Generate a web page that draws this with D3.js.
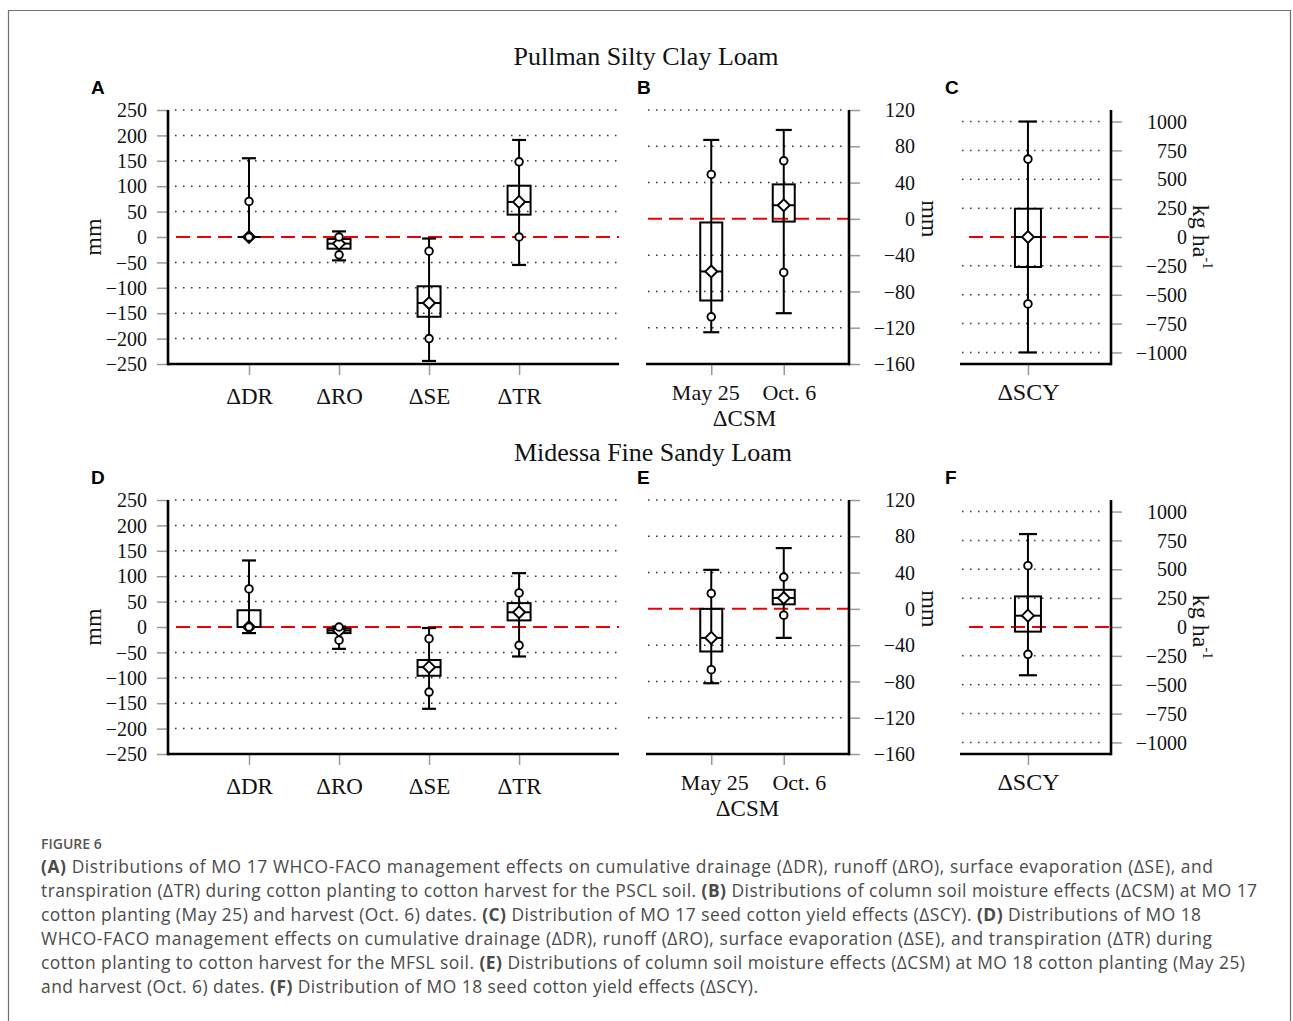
<!DOCTYPE html>
<html>
<head>
<meta charset="utf-8">
<script src="https://cdnjs.cloudflare.com/ajax/libs/d3/7.8.5/d3.min.js"></script>
<style>
  body { margin: 0; background: #fff; }
  .serif { font-family: "Liberation Serif", "Times New Roman", serif; fill: #111; }
  .tick line { stroke: #9a9a9a; stroke-width: 1.5; }
  .tick text { font-family: "Liberation Serif", "Times New Roman", serif; fill: #111; }
</style>
</head>
<body>
<div class="chart"></div>
<script>
// ---- data ----
var soilTitles = ["Pullman Silty Clay Loam", "Midessa Fine Sandy Loam"];
var panelLetters = [["A", "B", "C"], ["D", "E", "F"]];

var fluxNames = ["ΔDR", "ΔRO", "ΔSE", "ΔTR"];
var csmDates = ["May 25", "Oct. 6"];
var yieldNames = ["ΔSCY"];

var mmTicks = [250, 200, 150, 100, 50, 0, -50, -100, -150, -200, -250];
var csmTicks = [120, 80, 40, 0, -40, -80, -120, -160];
var kgTicks = [1000, 750, 500, 250, 0, -250, -500, -750, -1000];

// each row: [min, low circle, q1, median, q3, high circle, max]
var fluxPSCL = [
  [0, 0, 0, 0, 0, 70, 155],
  [-46, -35, -23, -13, -4, 0, 11],
  [-244, -200, -157, -130, -97, -28, -3],
  [-55, 0, 44, 69, 101, 148, 191]
];
var csmPSCL = [
  [-125, -108, -90, -58, -4, 49, 87],
  [-104, -59, -3, 15, 38, 64, 98]
];
var yieldPSCL = [
  [-1000, -580, -260, 0, 245, 675, 1000]
];

var fluxMFSL = [
  [-12, 0, 0, 0, 33, 75, 131],
  [-43, -26, -12, -7, -3, 0, 1],
  [-161, -128, -96, -79, -65, -23, -2],
  [-58, -36, 13, 29, 47, 67, 106]
];
var csmMFSL = [
  [-82, -67, -47, -32, 0, 17, 43],
  [-32, -7, 5, 12, 21, 35, 67]
];
var yieldMFSL = [
  [-418, -237, -40, 98, 265, 531, 805]
];

var captionLines = [
  "(A) Distributions of MO 17 WHCO-FACO management effects on cumulative drainage (ΔDR), runoff (ΔRO), surface evaporation (ΔSE), and",
  "transpiration (ΔTR) during cotton planting to cotton harvest for the PSCL soil. (B) Distributions of column soil moisture effects (ΔCSM) at MO 17",
  "cotton planting (May 25) and harvest (Oct. 6) dates. (C) Distribution of MO 17 seed cotton yield effects (ΔSCY). (D) Distributions of MO 18",
  "WHCO-FACO management effects on cumulative drainage (ΔDR), runoff (ΔRO), surface evaporation (ΔSE), and transpiration (ΔTR) during",
  "cotton planting to cotton harvest for the MFSL soil. (E) Distributions of column soil moisture effects (ΔCSM) at MO 18 cotton planting (May 25)",
  "and harvest (Oct. 6) dates. (F) Distribution of MO 18 seed cotton yield effects (ΔSCY)."
];
var captionRight = [1213, 1257, 1201, 1212, 1245, 758];

// ---- layout ----
var svgWidth = 1293;
var svgHeight = 1021;

var svg = d3.select(".chart")
  .append("svg")
  .attr("width", svgWidth)
  .attr("height", svgHeight);

// outer frame
svg.append("path")
  .attr("d", "M8.5,1030 L8.5,10.5 L1290.5,10.5 L1290.5,1030")
  .attr("fill", "none")
  .attr("stroke", "#6f6f6f")
  .attr("stroke-width", 1.2);

var rowTop = [110, 500];
var plotH = 254;
var titleY = [65, 461];
var titleX = [646, 653];

function drawPanel(opts) {
  var g = svg.append("g");
  var y = d3.scaleLinear().domain(opts.yDomain).range([opts.top + plotH, opts.top]);
  var x = d3.scaleLinear().domain(opts.xDomain).range([opts.x0, opts.x1]);
  var bottom = opts.top + plotH;
  var axisX = opts.side === "left" ? opts.x0 : opts.x1;

  // dotted grid lines
  g.selectAll(".grid")
    .data(opts.ticks.filter(d => d !== 0 && d !== opts.yDomain[0]))
    .enter()
    .append("line")
    .attr("x1", opts.gx0)
    .attr("x2", opts.gx1)
    .attr("y1", d => y(d))
    .attr("y2", d => y(d))
    .attr("stroke", "#333")
    .attr("stroke-width", 1.5)
    .attr("stroke-dasharray", "1.5,6.5");

  // zero reference
  g.append("line")
    .attr("x1", opts.rx0)
    .attr("x2", opts.rx1)
    .attr("y1", y(0))
    .attr("y2", y(0))
    .attr("stroke", "#f00000")
    .attr("stroke-width", 2)
    .attr("stroke-dasharray", "14,7");

  // y axis
  var yAxis = (opts.side === "left" ? d3.axisLeft(y) : d3.axisRight(y))
    .tickValues(opts.ticks)
    .tickSize(11)
    .tickFormat(d3.format("d"));
  var ya = g.append("g")
    .attr("transform", `translate(${axisX},0)`)
    .call(yAxis);
  ya.select(".domain").remove();
  ya.selectAll("text")
    .attr("font-size", 20)
    .attr("dy", "0.33em")
    .attr("text-anchor", "end")
    .attr("x", opts.side === "left" ? -21 : opts.labelOff);

  // x axis
  var xAxis = d3.axisBottom(x)
    .tickValues(opts.cats.map((c, i) => i + 1))
    .tickFormat(i => opts.cats[i - 1])
    .tickSize(11);
  var xa = g.append("g")
    .attr("transform", `translate(0,${bottom})`)
    .call(xAxis);
  xa.select(".domain").remove();
  xa.selectAll("text")
    .attr("font-size", opts.catSize)
    .attr("y", opts.catY)
    .attr("dx", (d, i) => opts.catShift ? opts.catShift[i] : 0)
    .attr("dy", 0);

  // axis lines
  g.append("line")
    .attr("x1", opts.x0).attr("x2", opts.x1)
    .attr("y1", bottom).attr("y2", bottom)
    .attr("stroke", "#000").attr("stroke-width", 2.6);
  g.append("line")
    .attr("x1", axisX).attr("x2", axisX)
    .attr("y1", opts.top).attr("y2", bottom + 1.3)
    .attr("stroke", "#000").attr("stroke-width", 2.6);

  // boxes
  var box = g.selectAll(".box")
    .data(opts.stats)
    .enter()
    .append("g")
    .attr("transform", (d, i) => `translate(${x(i + 1)},0)`);

  box.append("line")
    .attr("y1", d => y(d[0]))
    .attr("y2", d => y(d[6]))
    .attr("stroke", "#000").attr("stroke-width", 2);
  box.append("line")
    .attr("x1", -opts.capW / 2).attr("x2", opts.capW / 2)
    .attr("y1", d => y(d[0])).attr("y2", d => y(d[0]))
    .attr("stroke", "#000").attr("stroke-width", 2.2);
  box.append("line")
    .attr("x1", -opts.capW / 2).attr("x2", opts.capW / 2)
    .attr("y1", d => y(d[6])).attr("y2", d => y(d[6]))
    .attr("stroke", "#000").attr("stroke-width", 2.2);
  box.append("rect")
    .attr("x", -opts.boxW / 2)
    .attr("width", opts.boxW)
    .attr("y", d => y(d[4]))
    .attr("height", d => y(d[2]) - y(d[4]))
    .attr("fill", "none")
    .attr("stroke", "#000").attr("stroke-width", 2);
  box.append("line")
    .attr("x1", -opts.boxW / 2).attr("x2", opts.boxW / 2)
    .attr("y1", d => y(d[3])).attr("y2", d => y(d[3]))
    .attr("stroke", "#000").attr("stroke-width", 2);
  box.append("path")
    .attr("d", d => `M0,${y(d[3]) - 6} L6,${y(d[3])} L0,${y(d[3]) + 6} L-6,${y(d[3])} Z`)
    .attr("fill", "#fff")
    .attr("stroke", "#000").attr("stroke-width", 1.9);
  [1, 5].forEach(function(k) {
    box.append("circle")
      .attr("cy", d => y(d[k]))
      .attr("r", 3.8)
      .attr("fill", "#fff")
      .attr("stroke", "#000").attr("stroke-width", 1.9);
  });

  // axis label
  var lab = g.append("text")
    .attr("class", "serif")
    .attr("font-size", 24)
    .attr("text-anchor", "middle")
    .attr("transform", `translate(${opts.labX},${y(0)}) rotate(${opts.side === "left" ? -90 : 90})`)
    .attr("dy", "0.3em")
    .text(opts.yLabel);
  if (opts.sup) {
    lab.append("tspan")
      .attr("font-size", 14)
      .attr("dy", "-0.75em")
      .text(opts.sup);
  }

  if (opts.xTitle) {
    g.append("text")
      .attr("class", "serif")
      .attr("font-size", 23)
      .attr("text-anchor", "middle")
      .attr("x", (x(1) + x(opts.cats.length)) / 2 + opts.titleShift)
      .attr("y", bottom + 62)
      .text(opts.xTitle);
  }

  // panel letter
  svg.append("text")
    .attr("x", opts.letterX)
    .attr("y", opts.top - 16)
    .attr("font-family", "Liberation Sans, Arial, sans-serif")
    .attr("font-weight", "bold")
    .attr("font-size", 19)
    .attr("fill", "#000")
    .text(opts.letter);
}

var fluxSets = [fluxPSCL, fluxMFSL];
var csmSets = [csmPSCL, csmMFSL];
var yieldSets = [yieldPSCL, yieldMFSL];
var csmLabelShift = [[-6, 5], [3, 15]];
var csmTitleShift = [-3, 0];

[0, 1].forEach(function(r) {
  svg.append("text")
    .attr("class", "serif")
    .attr("x", titleX[r])
    .attr("y", titleY[r])
    .attr("text-anchor", "middle")
    .attr("font-size", 26)
    .text(soilTitles[r]);

  drawPanel({
    top: rowTop[r], side: "left", cats: fluxNames, stats: fluxSets[r],
    ticks: mmTicks, yDomain: [-250, 250], xDomain: [0.1, 5.11], x0: 168, x1: 619,
    gx0: 175, gx1: 618, rx0: 176, rx1: 619, boxW: 23, capW: 14,
    catSize: 23, catY: 40, labX: 94, yLabel: "mm",
    letter: panelLetters[r][0], letterX: 91
  });
  drawPanel({
    top: rowTop[r], side: "right", cats: csmDates, stats: csmSets[r],
    ticks: csmTicks, yDomain: [-160, 120], xDomain: [0.1, 2.9], x0: 646, x1: 849,
    gx0: 648, gx1: 843, rx0: 648, rx1: 849, boxW: 22, capW: 16, labelOff: 66,
    catSize: 22, catY: 36, catShift: csmLabelShift[r], labX: 929,
    yLabel: "mm", xTitle: "ΔCSM", titleShift: csmTitleShift[r],
    letter: panelLetters[r][1], letterX: 637
  });
  drawPanel({
    top: rowTop[r], side: "right", cats: yieldNames, stats: yieldSets[r],
    ticks: kgTicks, yDomain: [-1100, 1100], xDomain: [0.1, 2.1], x0: 960, x1: 1111,
    gx0: 962, gx1: 1103, rx0: 969, rx1: 1111, boxW: 26, capW: 18, labelOff: 76,
    catSize: 24, catY: 36, labX: 1200, yLabel: "kg ha", sup: "-1",
    letter: panelLetters[r][2], letterX: 945
  });
});

// ---- caption ----
svg.append("text")
  .attr("x", 41)
  .attr("y", 849)
  .attr("font-family", "Open Sans, sans-serif")
  .attr("font-weight", 600)
  .attr("font-size", 14)
  .attr("fill", "#555")
  .text("FIGURE 6");

captionLines.forEach(function(line, i) {
  var t = svg.append("text")
    .attr("x", 41)
    .attr("y", 873 + i * 24)
    .attr("font-family", "Open Sans, sans-serif")
    .attr("font-size", 17.4)
    .attr("fill", "#4a4a4a")
    .attr("textLength", captionRight[i] - 41)
    .attr("lengthAdjust", "spacing");
  line.split(/(\([A-F]\))/).forEach(function(part) {
    if (!part) return;
    t.append("tspan")
      .attr("font-weight", /^\([A-F]\)$/.test(part) ? 700 : 400)
      .text(part);
  });
});
</script>
</body>
</html>
